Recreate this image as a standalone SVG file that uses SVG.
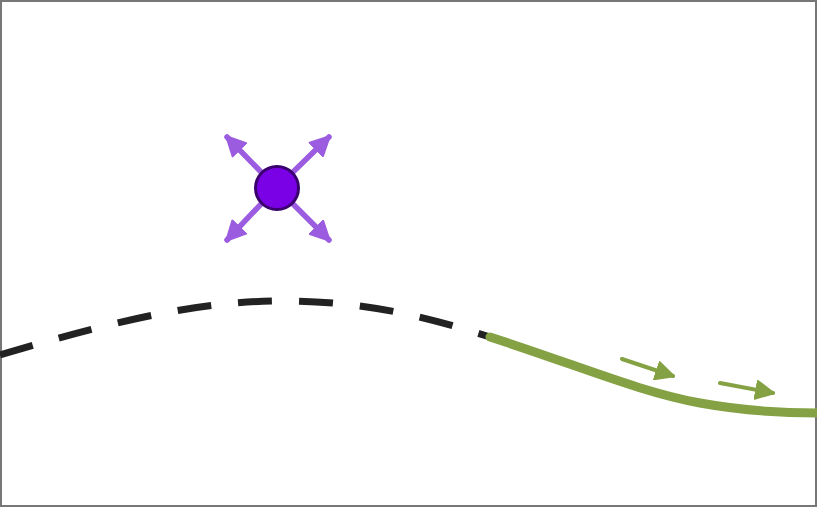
<svg xmlns="http://www.w3.org/2000/svg" width="817" height="507" viewBox="0 0 817 507">
<style>
.dash{fill:none;stroke:#222222;stroke-width:7;stroke-dasharray:34 27}
.green{fill:none;stroke:#84a244;stroke-width:9;stroke-linecap:round}
.garrow{fill:none;stroke:#84a244;stroke-width:4;stroke-linecap:round}
.parrow{fill:none;stroke:#9b5ce0;stroke-width:5.5;stroke-linecap:round}
</style>
<defs>
<marker id="gh" viewBox="0 0 10 10" refX="9" refY="5" markerWidth="5" markerHeight="5" orient="auto" markerUnits="strokeWidth">
<path d="M0.5,0.5 L9.5,5 L0.5,9.5 z" fill="#84a244" stroke="#84a244" stroke-linejoin="round"/>
</marker>
<marker id="ph" viewBox="0 0 10 10" refX="9" refY="5" markerWidth="3.8" markerHeight="3.8" orient="auto" markerUnits="strokeWidth">
<path d="M0.5,0.5 L9.5,5 L0.5,9.5 z" fill="#9b5ce0" stroke="#9b5ce0" stroke-linejoin="round"/>
</marker>
</defs>
<rect x="1" y="1" width="815" height="505" fill="#ffffff" stroke="#777777" stroke-width="2"/>
<g id="connectors">
<path class="dash" d="M0,355 C130,316 210,300 290,301 C370,302 430,318 490,337"/>
<path class="green" d="M490,337 C580,366 640,392 700,403 C750,412 790,413 817,413"/>
<path class="garrow" d="M622,359 L673,376" marker-end="url(#gh)"/>
<path class="garrow" d="M720,383 L773,393" marker-end="url(#gh)"/>
</g>
<g id="node">
<path class="parrow" d="M262,173 L227,137" marker-end="url(#ph)"/>
<path class="parrow" d="M292,173 L329,137" marker-end="url(#ph)"/>
<path class="parrow" d="M262,203 L227,240" marker-end="url(#ph)"/>
<path class="parrow" d="M292,203 L329,240" marker-end="url(#ph)"/>
<circle cx="277" cy="188" r="21.5" fill="#7a00e6" stroke="#3a006e" stroke-width="3"/>
</g>
</svg>
